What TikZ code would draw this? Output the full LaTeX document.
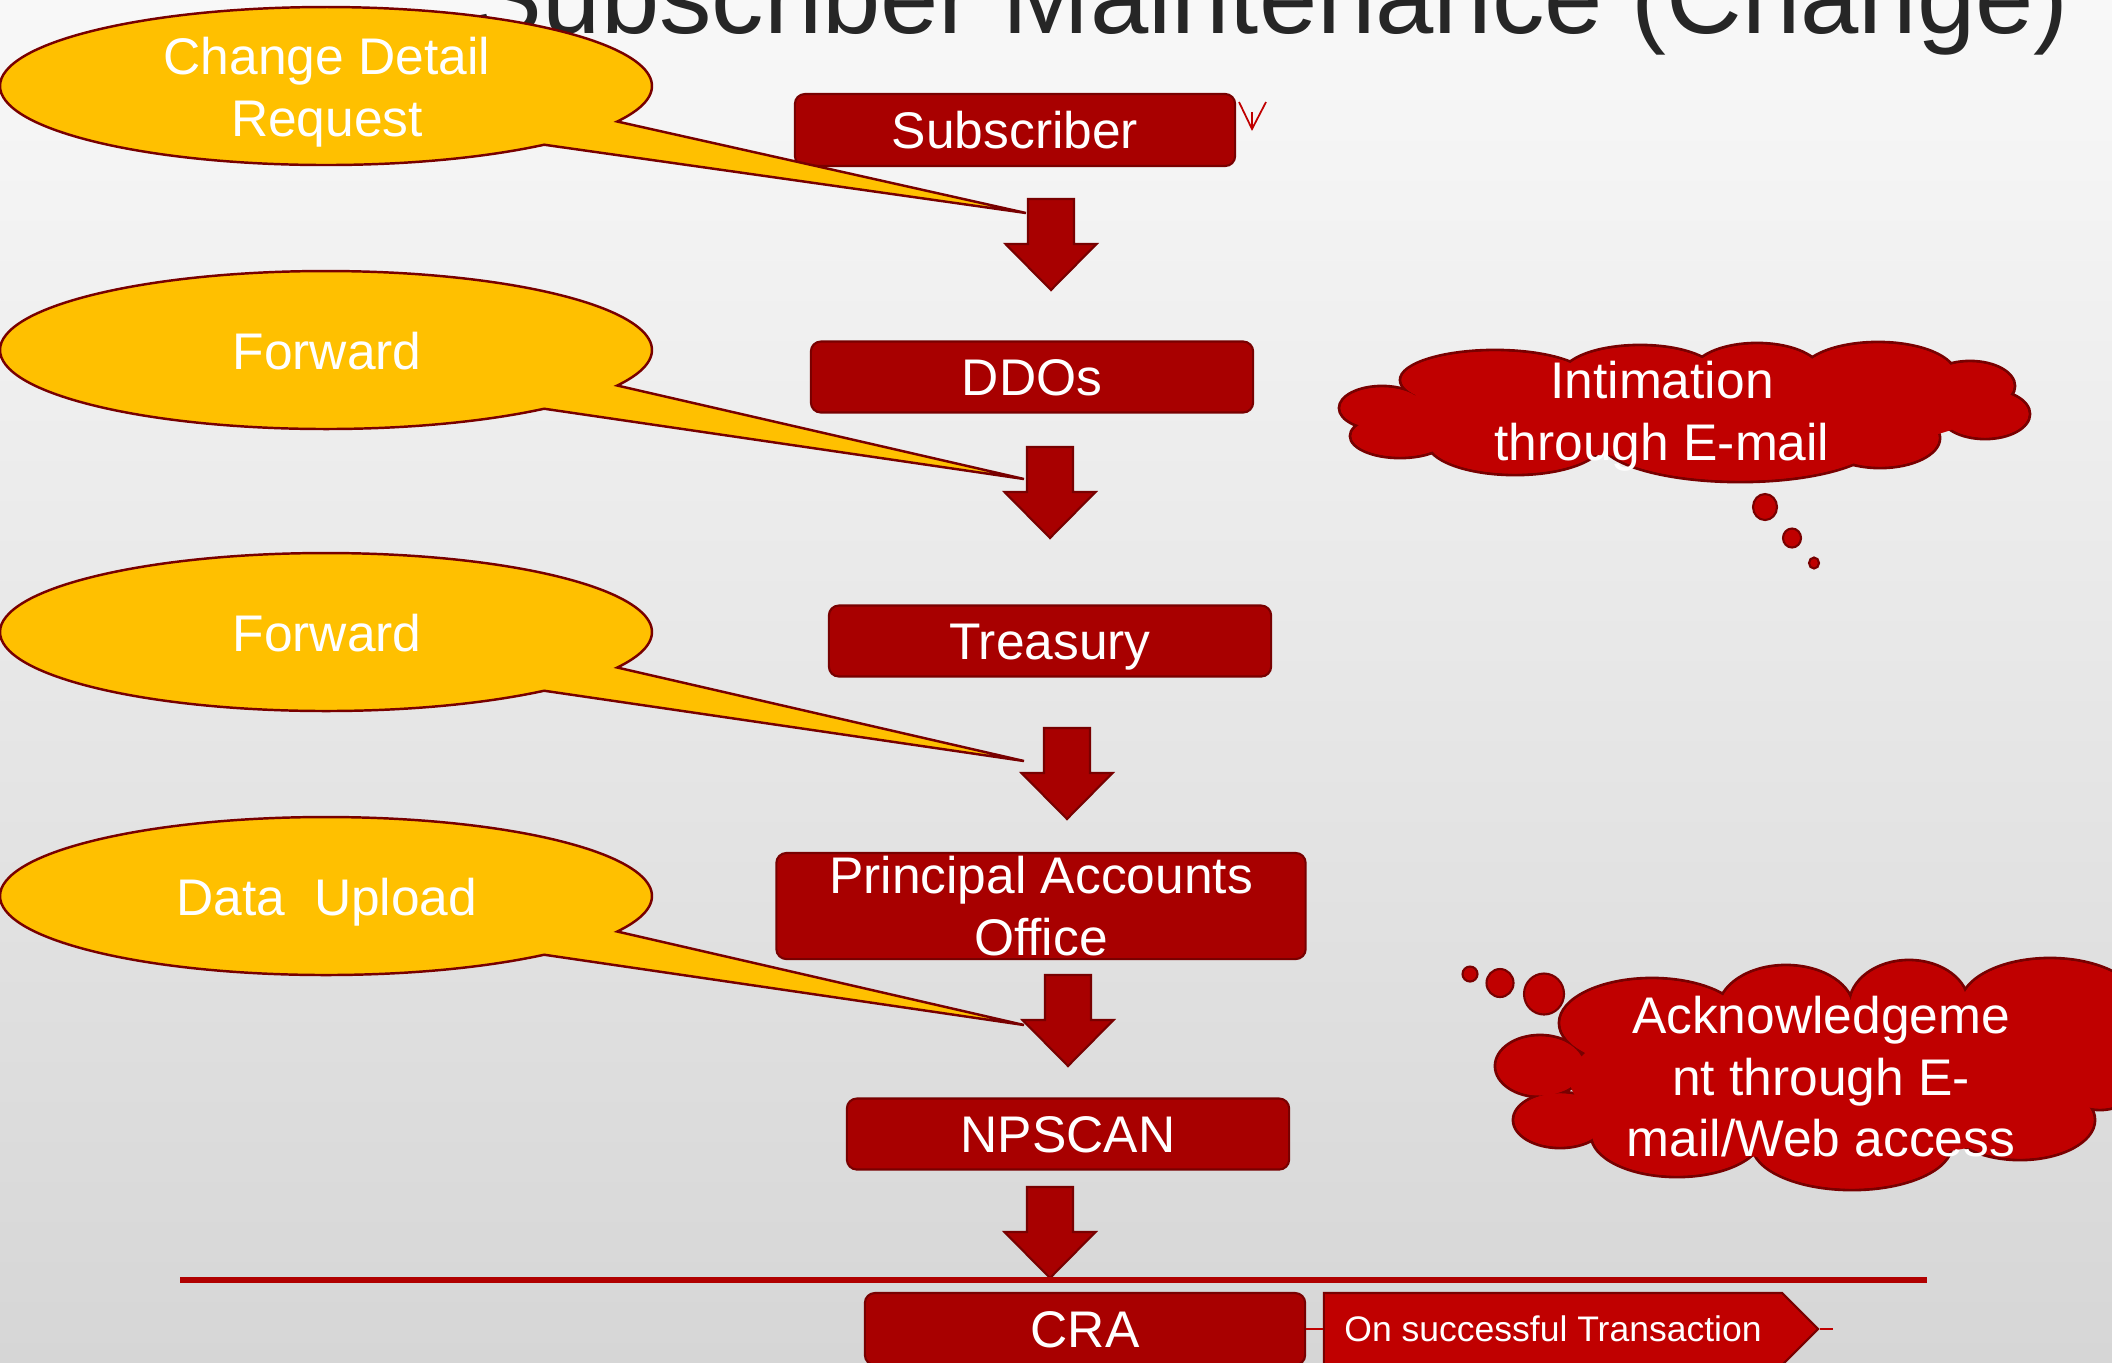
\documentclass[tikz,border=0pt]{standalone}
\usepackage{fontspec}
\setmainfont{Liberation Sans}
\usetikzlibrary{shapes.symbols,calc}
\definecolor{boxred}{HTML}{A80000}
\definecolor{edgered}{HTML}{780000}
\definecolor{calloutyellow}{HTML}{FFC000}
\definecolor{cloudred}{HTML}{C00000}
\definecolor{linered}{HTML}{B00000}
\definecolor{titlegray}{HTML}{262626}
\definecolor{bgtop}{HTML}{F8F8F8}
\definecolor{bgbottom}{HTML}{D6D6D6}
\newcommand{\mainsize}{\fontsize{14.65pt}{17.5pt}\selectfont}
\tikzset{
  stagebox/.style={fill=boxred, draw=edgered, line width=0.6pt, rounded corners=0.1cm,
    text=white, font=\mainsize, minimum width=4.42cm, minimum height=0.71cm, inner sep=0pt, align=center},
  onebox/.style={stagebox, text height=10.5pt, text depth=0pt},
  calloutshape/.style={fill=calloutyellow, draw=edgered, line width=0.7pt},
  labeltext/.style={text=white, font=\mainsize, align=center, inner sep=0pt},
  onelabel/.style={labeltext, text height=10.5pt, text depth=0pt},
  lobe/.style={fill=cloudred, draw=edgered, line width=0.8pt},
  bubble/.style={fill=cloudred, draw=edgered, line width=0.6pt},
  downarrow/.pic={\draw[fill=boxred, draw=edgered, line width=0.6pt]
    (-23,0) -- (23,0) -- (23,45) -- (45.5,45) -- (0,91) -- (-45.5,45) -- (-23,45) -- cycle;},
}
% lobes of the two clouds: x/y/xradius/yradius
\def\lobesA{1495/380/95/30, 1640/375/78/30, 1757/373/65/30, 1878/375/78/33,
  1970/386/45/25, 1985/414/45/25, 1880/438/60/30, 1740/440/140/42,
  1515/442/88/33, 1400/436/50/22, 1382/408/43/22}
\def\lobesB{1540/1066/45/31, 1560/1120/47/28, 1677/1135/86/42, 1852/1145/100/45,
  2020/1120/75/40, 2100/1060/50/50, 1652/1023/93/45, 1786/1010/68/45,
  1909/1005/60/45, 2050/1005/90/47}
\begin{document}
\begin{tikzpicture}[x=0.01cm, y=-0.01cm]
\useasboundingbox (0,0) rectangle (2112,1362);
\clip (0,0) rectangle (2112,1362);
\shade[top color=bgtop, bottom color=bgbottom] (0,0) rectangle (2112,1362);

% title
\node[anchor=base, font=\fontsize{29.8pt}{32pt}\selectfont, text=titlegray, inner sep=0pt]
  (title) at (1271,33) {Subscriber Maintenance (Change)};

% boxes
\node[onebox, minimum width=4.4cm, minimum height=0.72cm] (sub) at (1015,130) {Subscriber};
\node[onebox] (ddo) at (1032,377) {DDOs};
\node[onebox] (tre) at (1050,641) {Treasury};
\node[stagebox, minimum width=5.29cm, minimum height=1.06cm] (pao) at (1041,906) {Principal Accounts\\Office};
\node[onebox] (nps) at (1068,1134) {NPSCAN};
\node[onebox, minimum width=4.4cm, minimum height=0.72cm] (cra) at (1085,1329) {CRA};

% small mark beside Subscriber
\coordinate (v1) at (1239,102);
\coordinate (v2) at (1252,129);
\coordinate (v3) at (1266,102);
\coordinate (v4) at (1252,112);
\draw[cloudred, line width=0.5pt] (v1) -- (v2) -- (v3);
\draw[cloudred, line width=0.5pt] (v4) -- (v2);

% block arrows
\coordinate (a1) at (1051,199);
\coordinate (a2) at (1050,447);
\coordinate (a3) at (1067,728);
\coordinate (a4) at (1068,975);
\coordinate (a5) at (1050,1187);
\pic at (a1) {downarrow};
\pic at (a2) {downarrow};
\pic at (a3) {downarrow};
\pic at (a4) {downarrow};
\pic at (a5) {downarrow};

% callouts
\coordinate (c1) at (326,86);   \coordinate (tip1) at (1026,213);
\coordinate (c2) at (326,350);  \coordinate (tip2) at (1024,479);
\coordinate (c3) at (326,632);  \coordinate (tip3) at (1024,761);
\coordinate (c4) at (326,896);  \coordinate (tip4) at (1024,1025);
\foreach \c/\t in {c1/tip1, c2/tip2, c3/tip3, c4/tip4}{
  \draw[calloutshape] ($(\c)+(48:326 and 79)$)
    arc[start angle=48, end angle=386.7, x radius=326, y radius=79] -- (\t) -- cycle;
}
\node[labeltext] (t1) at (327,92) {Change Detail\\Request};
\node[onelabel] (t2) at (327,351) {Forward};
\node[onelabel] (t3) at (327,633) {Forward};
\node[onelabel] (t4) at (327,897) {Data\ \ Upload};

% cloud 1
\foreach \x/\y/\a/\b in \lobesA {\draw[lobe] (\x,\y) ellipse [x radius=\a, y radius=\b];}
\foreach \x/\y/\a/\b in \lobesA {\fill[cloudred] (\x,\y) ellipse [x radius=\a-1.5, y radius=\b-1.5];}
\fill[cloudred] (1685,412) ellipse [x radius=290, y radius=45];
\node[labeltext] (cl1t) at (1662,416) {Intimation\\through E-mail};
\draw[bubble] (1765,507) ellipse [x radius=12, y radius=13];
\draw[bubble] (1792,538) ellipse [x radius=9, y radius=9.5];
\draw[bubble] (1814,563) ellipse [x radius=5, y radius=5.5];

% cloud 2
\foreach \x/\y/\a/\b in \lobesB {\draw[lobe] (\x,\y) ellipse [x radius=\a, y radius=\b];}
\foreach \x/\y/\a/\b in \lobesB {\fill[cloudred] (\x,\y) ellipse [x radius=\a-1.5, y radius=\b-1.5];}
\fill[cloudred] (1830,1080) ellipse [x radius=260, y radius=80];
\node[labeltext] (cl2t) at (1821,1077) {Acknowledgeme\\nt through E-\\mail/Web access};
\draw[bubble] (1470,974) ellipse [x radius=7.5, y radius=7.5];
\draw[bubble] (1500,983) ellipse [x radius=13.5, y radius=14];
\draw[bubble] (1544,994) ellipse [x radius=20, y radius=20.5];

% separator line
\coordinate (hl1) at (180,1280);
\coordinate (hl2) at (1927,1280);
\draw[linered, line width=1.7pt] (hl1) -- (hl2);

% on successful transaction
\node[signal, signal to=east, signal pointer angle=90, fill=cloudred, draw=edgered, line width=0.6pt,
  minimum width=4.94cm, minimum height=0.72cm, inner sep=0pt, text=white,
  font=\fontsize{10.1pt}{12pt}\selectfont] (ost) at (1553,1329) {On successful Transaction};
\coordinate (ostend) at (1833,1329);
\draw[cloudred, line width=0.6pt] (cra.east) -- (ost.west);
\draw[cloudred, line width=0.6pt] (ost.east) -- (ostend);
\end{tikzpicture}
\end{document}
